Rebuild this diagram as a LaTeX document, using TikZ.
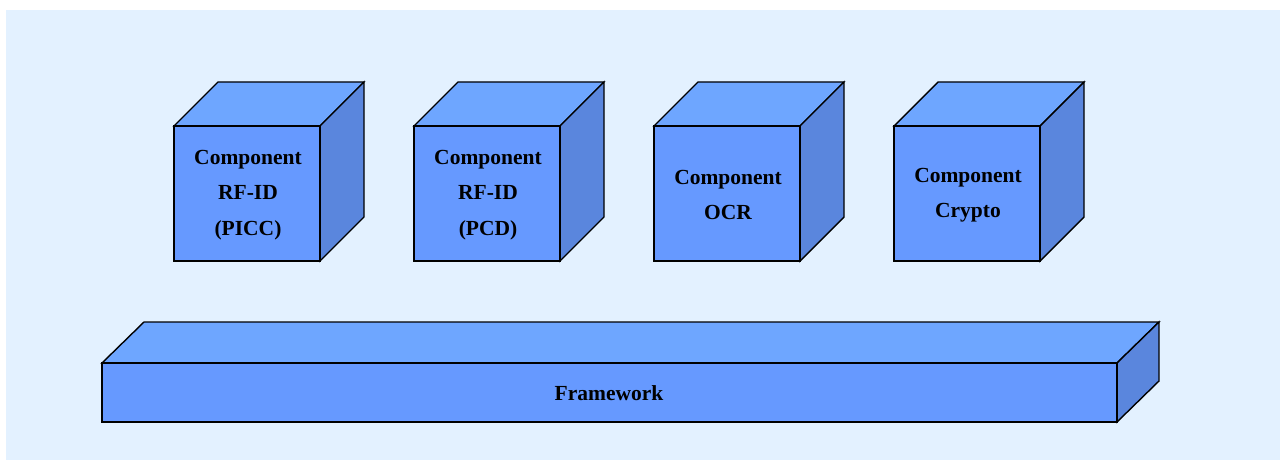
\documentclass[tikz,border=0pt]{standalone}
\usepackage{fontspec}
\setmainfont{Liberation Serif}
\definecolor{bgc}{HTML}{E3F1FF}
\definecolor{frontc}{HTML}{6699FF}
\definecolor{topc}{HTML}{6EA6FF}
\definecolor{sidec}{HTML}{5A86DD}
\begin{document}
\begin{tikzpicture}[x=1pt,y=-1pt,
  face/.style={draw=black,line width=1.4pt,line join=miter},
  lbl/.style={font=\bfseries\fontsize{21.5}{35.5}\selectfont,align=center,text=black,inner sep=0pt}]
\useasboundingbox (0,0) rectangle (1280,460);
\fill[bgc] (6,10) rectangle (1280,460);
% cubes
\foreach \n/\x in {a/174,b/414,c/654,d/894}{
  \filldraw[face,fill=topc] (\x,126) -- (\x+44,82) -- (\x+190,82) -- (\x+146,126) -- cycle;
  \filldraw[face,fill=sidec] (\x+146,126) -- (\x+190,82) -- (\x+190,217) -- (\x+146,261) -- cycle;
  \filldraw[face,fill=frontc] (\x,126) rectangle (\x+146,261);
  \coordinate (\n) at (\x+74,195);
}
\node[lbl] (ta) at (a) {Component\\RF-ID\\(PICC)};
\node[lbl] (tb) at (b) {Component\\RF-ID\\(PCD)};
\node[lbl] (tc) at (c) {Component\\OCR};
\node[lbl] (td) at (d) {Component\\Crypto};
% framework
\filldraw[face,fill=topc] (102,363) -- (144,322) -- (1159,322) -- (1117,363) -- cycle;
\filldraw[face,fill=sidec] (1117,363) -- (1159,322) -- (1159,381) -- (1117,422) -- cycle;
\filldraw[face,fill=frontc] (102,363) rectangle (1117,422);
\node[lbl] (fw) at (609,393) {Framework};
\end{tikzpicture}
\end{document}
